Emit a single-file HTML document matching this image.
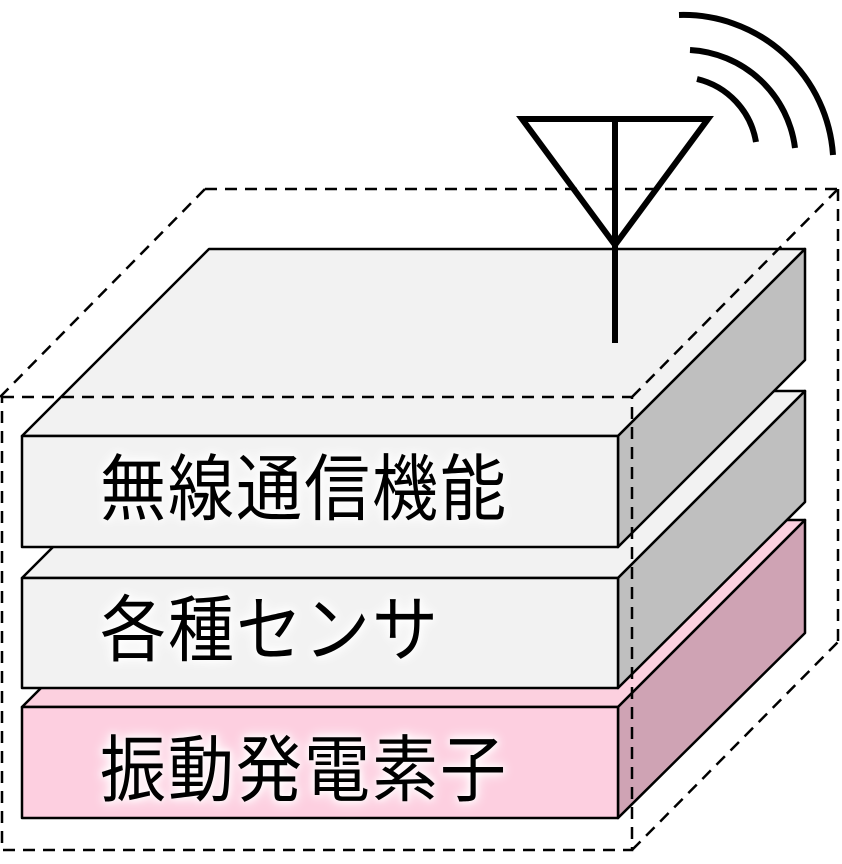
<!DOCTYPE html>
<html><head><meta charset="utf-8"><style>
html,body{margin:0;padding:0;background:#fff;}
.wrap{position:relative;width:842px;height:864px;overflow:hidden;}
svg{position:absolute;left:0;top:0;}
.t{position:absolute;left:100px;font-family:"Liberation Sans","Noto Sans CJK JP",sans-serif;font-size:66px;line-height:66px;color:#000;white-space:nowrap;letter-spacing:2px;
transform:scaleY(1.1);transform-origin:0 50%;
text-shadow:0 0 6px #fff,0 0 10px #fff,0 0 14px #fff;}
</style></head><body><div class="wrap">
<svg width="842" height="864" viewBox="0 0 842 864">
<g stroke="#000" stroke-width="2.5" stroke-linejoin="round">
<polygon points="22,707 209,520 805,520 618,707" fill="#fcd0df"/>
<polygon points="618,707 805,520 805,633 618,818" fill="#cfa3b4"/>
<rect x="22" y="707" width="596" height="111" fill="#fdcfe0"/>
<polygon points="22,578 209,391 805,391 618,578" fill="#f2f2f2"/>
<polygon points="618,578 805,391 805,502 618,688" fill="#bfbfbf"/>
<rect x="22" y="578" width="596" height="110" fill="#f2f2f2"/>
<polygon points="22,436 209,249 805,249 618,436" fill="#f2f2f2"/>
<polygon points="618,436 805,249 805,360 618,547" fill="#bfbfbf"/>
<rect x="22" y="436" width="596" height="111" fill="#f2f2f2"/>
</g>
<g stroke="#000" stroke-width="2.5" fill="none" stroke-dasharray="12,8">
<line x1="205" y1="189" x2="838" y2="189"/>
<line x1="838" y1="189" x2="838" y2="642"/>
<line x1="0" y1="397" x2="205" y2="189"/>
<line x1="632" y1="397" x2="838" y2="189"/>
<line x1="632" y1="850" x2="838" y2="642"/>
<rect x="2" y="397" width="630" height="453"/>
</g>
<g stroke="#000" stroke-width="6" fill="none" stroke-linecap="butt">
<polygon points="522,119 708,119 615,245" stroke-linejoin="miter"/>
<line x1="615" y1="119" x2="615" y2="343"/>
<path d="M679,15 A150,150 0 0 1 833,155"/>
<path d="M690,50 A112,112 0 0 1 795,148"/>
<path d="M697,79 A78,78 0 0 1 756,142"/>
</g>
</svg>
<div class="t" style="top:456px;">無線通信機能</div>
<div class="t" style="top:597px;">各種センサ</div>
<div class="t" style="top:737px;">振動発電素子</div>
</div></body></html>
